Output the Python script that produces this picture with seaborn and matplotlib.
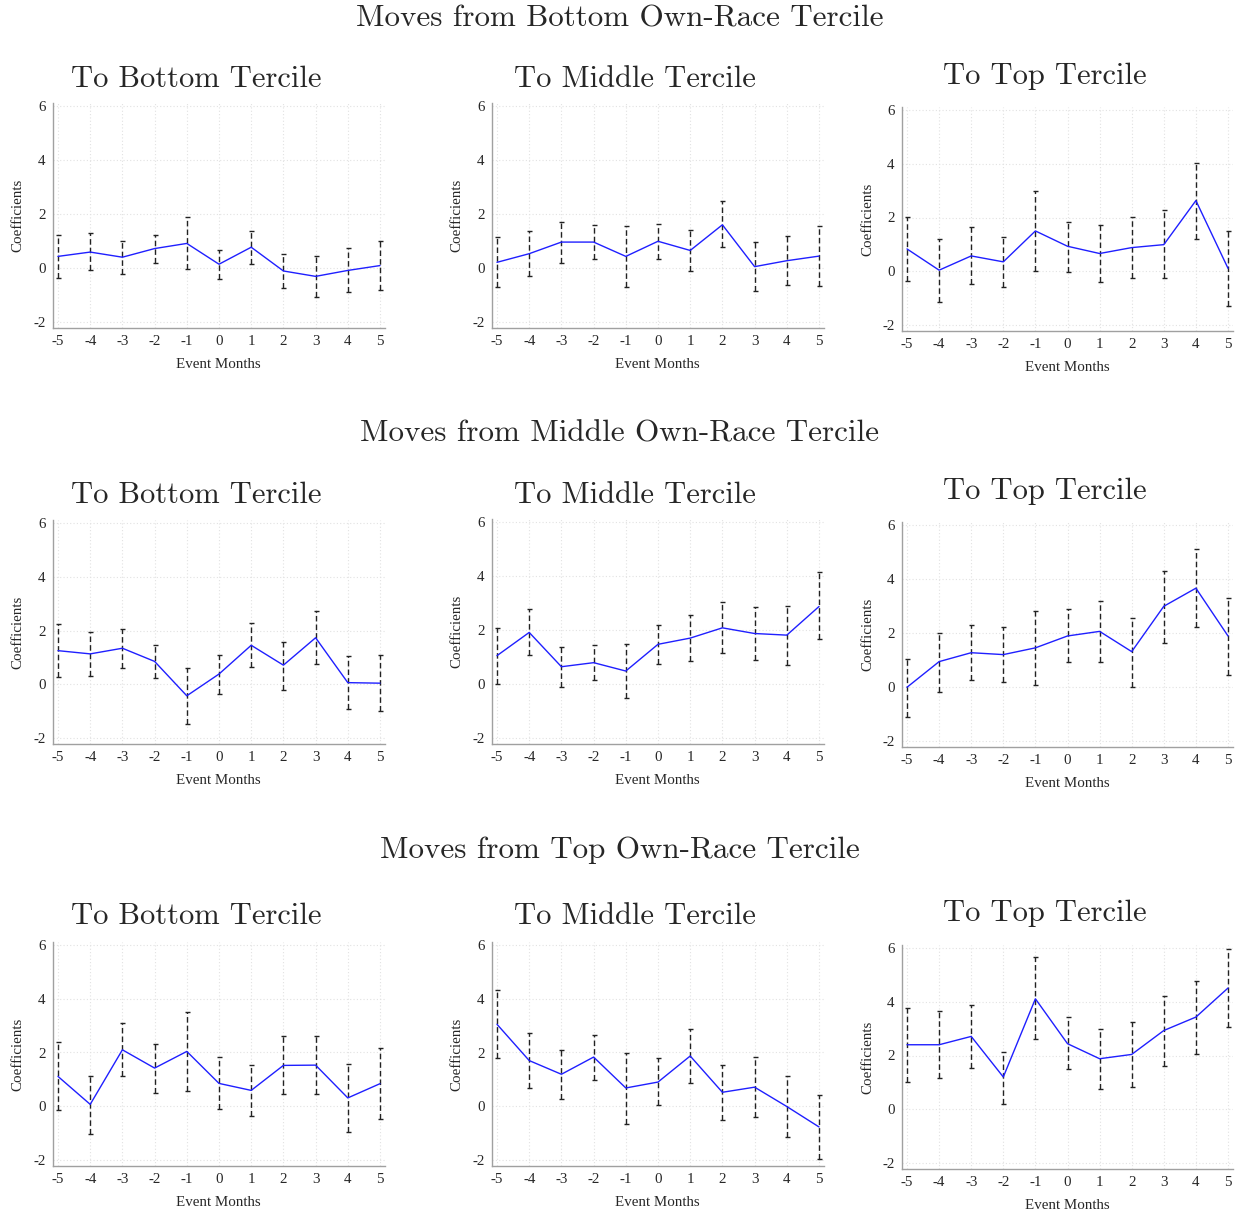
import matplotlib
matplotlib.use("Agg")
import matplotlib.pyplot as plt
import numpy as np
import seaborn as sns

# Event-study months
months = [-5, -4, -3, -2, -1, 0, 1, 2, 3, 4, 5]
month_labels = ["-5", "-4", "-3", "-2", "-1", "0", "1", "2", "3", "4", "5"]
y_ticks = [-2, 0, 2, 4, 6]

origin_titles = ["Moves from Bottom Own-Race Tercile",
                 "Moves from Middle Own-Race Tercile",
                 "Moves from Top Own-Race Tercile"]
dest_titles = ["To Bottom Tercile", "To Middle Tercile", "To Top Tercile"]

# Bottom tercile origin
bot_to_bot_coef = [0.43, 0.59, 0.40, 0.72, 0.91, 0.14, 0.77, -0.11, -0.31, -0.09, 0.09]
bot_to_bot_hi = [1.21, 1.30, 1.00, 1.23, 1.88, 0.65, 1.38, 0.53, 0.43, 0.74, 1.00]
bot_to_bot_lo = [-0.36, -0.09, -0.22, 0.20, -0.05, -0.40, 0.16, -0.74, -1.06, -0.89, -0.81]

bot_to_mid_coef = [0.21, 0.53, 0.96, 0.96, 0.43, 0.99, 0.65, 1.60, 0.05, 0.27, 0.44]
bot_to_mid_hi = [1.14, 1.36, 1.72, 1.60, 1.54, 1.62, 1.41, 2.47, 0.95, 1.17, 1.54]
bot_to_mid_lo = [-0.72, -0.30, 0.20, 0.33, -0.70, 0.35, -0.12, 0.77, -0.84, -0.62, -0.65]

bot_to_top_coef = [0.83, 0.04, 0.57, 0.35, 1.50, 0.93, 0.66, 0.88, 0.99, 2.63, 0.11]
bot_to_top_hi = [2.03, 1.21, 1.63, 1.26, 2.98, 1.84, 1.71, 2.02, 2.27, 4.04, 1.50]
bot_to_top_lo = [-0.38, -1.16, -0.48, -0.59, 0.02, -0.01, -0.41, -0.25, -0.26, 1.21, -1.29]

# Middle tercile origin
mid_to_bot_coef = [1.25, 1.13, 1.34, 0.85, -0.43, 0.38, 1.45, 0.71, 1.73, 0.06, 0.04]
mid_to_bot_hi = [2.23, 1.93, 2.07, 1.45, 0.62, 1.10, 2.27, 1.59, 2.74, 1.04, 1.09]
mid_to_bot_lo = [0.28, 0.32, 0.62, 0.24, -1.49, -0.35, 0.66, -0.20, 0.74, -0.93, -1.00]

mid_to_mid_coef = [1.05, 1.91, 0.64, 0.79, 0.48, 1.47, 1.70, 2.08, 1.87, 1.81, 2.87]
mid_to_mid_hi = [2.07, 2.79, 1.37, 1.44, 1.50, 2.19, 2.54, 3.05, 2.86, 2.90, 4.14]
mid_to_mid_lo = [0.01, 1.07, -0.11, 0.14, -0.53, 0.73, 0.85, 1.14, 0.88, 0.71, 1.66]

mid_to_top_coef = [-0.01, 0.94, 1.27, 1.20, 1.45, 1.89, 2.06, 1.31, 2.99, 3.66, 1.89]
mid_to_top_hi = [1.04, 2.01, 2.29, 2.21, 2.83, 2.88, 3.19, 2.55, 4.30, 5.12, 3.29]
mid_to_top_lo = [-1.11, -0.17, 0.26, 0.19, 0.07, 0.93, 0.93, 0.01, 1.64, 2.21, 0.44]

# Top tercile origin
top_to_bot_coef = [1.11, 0.07, 2.10, 1.42, 2.04, 0.85, 0.59, 1.52, 1.53, 0.31, 0.84]
top_to_bot_hi = [2.40, 1.14, 3.11, 2.30, 3.50, 1.85, 1.55, 2.61, 2.61, 1.56, 2.17]
top_to_bot_lo = [-0.15, -1.03, 1.11, 0.51, 0.58, -0.12, -0.37, 0.45, 0.45, -0.95, -0.46]

top_to_mid_coef = [3.05, 1.70, 1.19, 1.83, 0.68, 0.90, 1.87, 0.52, 0.71, -0.01, -0.77]
top_to_mid_hi = [4.34, 2.71, 2.09, 2.66, 1.99, 1.78, 2.89, 1.52, 1.85, 1.14, 0.42]
top_to_mid_lo = [1.80, 0.69, 0.26, 0.97, -0.66, 0.04, 0.85, -0.50, -0.41, -1.15, -1.95]

top_to_top_coef = [2.40, 2.40, 2.71, 1.20, 4.11, 2.44, 1.88, 2.04, 2.93, 3.43, 4.51]
top_to_top_hi = [3.78, 3.65, 3.89, 2.13, 5.68, 3.42, 2.97, 3.26, 4.22, 4.77, 5.97]
top_to_top_lo = [1.03, 1.15, 1.54, 0.20, 2.60, 1.49, 0.77, 0.83, 1.60, 2.07, 3.05]

panels = [
    [(bot_to_bot_coef, bot_to_bot_lo, bot_to_bot_hi),
     (bot_to_mid_coef, bot_to_mid_lo, bot_to_mid_hi),
     (bot_to_top_coef, bot_to_top_lo, bot_to_top_hi)],
    [(mid_to_bot_coef, mid_to_bot_lo, mid_to_bot_hi),
     (mid_to_mid_coef, mid_to_mid_lo, mid_to_mid_hi),
     (mid_to_top_coef, mid_to_top_lo, mid_to_top_hi)],
    [(top_to_bot_coef, top_to_bot_lo, top_to_bot_hi),
     (top_to_mid_coef, top_to_mid_lo, top_to_mid_hi),
     (top_to_top_coef, top_to_top_lo, top_to_top_hi)],
]

sns.set_style("white")
plt.rcParams["font.family"] = ["Liberation Serif", "DejaVu Serif"]

W, H = 1239, 1214
fig = plt.figure(figsize=(W / 100, H / 100), dpi=100)

XLIM = (-5.17, 5.15)
YLIM = (-2.22, 6.1)

# pixel anchors of x=-5, x=5, y=6, y=-2 for each panel
col_x = [(58, 380), (497, 819), (907, 1228)]
row_y = [[(106, 322), (106, 322), (110, 325)],
         [(523, 738), (522, 738), (525, 741)],
         [(945, 1160), (945, 1160), (948, 1163)]]
origin_title_y = [19, 434, 850]
dest_title_y = [[79, 79, 76], [495, 495, 491], [916, 916, 913]]
dest_title_x = [196, 635, 1045]

line_blue = "#1f1fff"
axis_gray = "#a0a0a0"
grid_gray = "#e2e2e2"


def axes_rect(xm5, x5, y6, ym2):
    pxx = (x5 - xm5) / 10.0
    left = xm5 + (XLIM[0] + 5) * pxx
    right = x5 + (XLIM[1] - 5) * pxx
    pyy = (ym2 - y6) / 8.0
    top = y6 - (YLIM[1] - 6) * pyy
    bottom = ym2 + (-2 - YLIM[0]) * pyy
    return [left / W, 1 - bottom / H, (right - left) / W, (bottom - top) / H]


for r in range(3):
    fig.text(0.5, 1 - origin_title_y[r] / H, origin_titles[r], family="cmr10",
             fontsize=22.4, ha="center", va="center")
    for c in range(3):
        coef, lo, hi = panels[r][c]
        xm5, x5 = col_x[c]
        y6, ym2 = row_y[r][c]
        ax = fig.add_axes(axes_rect(xm5, x5, y6, ym2))

        coef_a = np.array(coef)
        err = np.vstack([coef_a - np.array(lo), np.array(hi) - coef_a])
        eb = ax.errorbar(months, coef, yerr=err, fmt="none", ecolor="#222222",
                         elinewidth=1.0, capsize=1.8, capthick=1.0, zorder=2)
        for coll in eb[2]:
            coll.set_linestyle((0, (4.0, 2.2)))
        sns.lineplot(x=months, y=coef, ax=ax, color=line_blue, linewidth=1.0,
                     zorder=3)

        ax.set_xlim(*XLIM)
        ax.set_ylim(*YLIM)
        ax.set_xticks(months)
        ax.set_xticklabels(month_labels)
        ax.set_yticks(y_ticks)
        ax.set_yticklabels([str(v) for v in y_ticks])
        ax.grid(True, color=grid_gray, linestyle=(0, (1, 2)), linewidth=0.8)
        ax.set_axisbelow(True)
        for s in ["top", "right"]:
            ax.spines[s].set_visible(False)
        for s in ["left", "bottom"]:
            ax.spines[s].set_color(axis_gray)
            ax.spines[s].set_linewidth(1.0)
        ax.tick_params(axis="both", direction="out", length=3, width=0.8,
                       color=axis_gray, labelsize=10.8, pad=2)
        ax.set_xlabel("Event Months", fontsize=10.8, labelpad=7)
        ax.set_ylabel("Coefficients", fontsize=10.8, labelpad=6)

        fig.text(dest_title_x[c] / W, 1 - dest_title_y[r][c] / H, dest_titles[c],
                 family="cmr10", fontsize=22.0, ha="center", va="center")

fig.savefig("out.png", dpi=100)
